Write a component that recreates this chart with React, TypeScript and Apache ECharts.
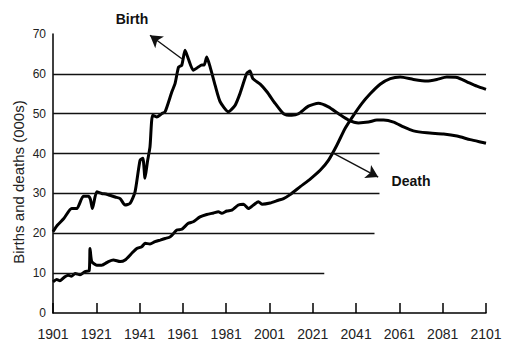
import React, { useEffect, useRef } from "react";
import * as echarts from "echarts";

const xTicks = [1901, 1921, 1941, 1961, 1981, 2001, 2021, 2041, 2061, 2081, 2101];

const birthData: [number, number][] = [
  [1901, 20.4], [1903, 22], [1906, 23.7], [1909.6, 26.2], [1912, 26.2], [1915, 29.3], [1917.3, 29.3],
  [1918.3, 28.5], [1919.2, 26.2], [1921.2, 30.4], [1923.5, 30], [1925.8, 29.8], [1929.7, 29.1],
  [1932, 28.7], [1934.3, 27.1], [1936.6, 27.5], [1938.9, 30.4], [1941.2, 38.3], [1942.5, 38.8],
  [1943.5, 33.8], [1944.6, 37.9], [1945.8, 41.7], [1947, 49.6], [1948.9, 49.2], [1951.2, 50],
  [1952.8, 50.5], [1955.9, 55.5], [1957.4, 57.6], [1959, 61.7], [1960.5, 62.2], [1962, 65.9],
  [1963.5, 63.8], [1965.8, 60.9], [1968.1, 61.7], [1969.7, 62.2], [1970.8, 62.2], [1972, 64.2],
  [1973.6, 61.7], [1975.9, 57.1], [1978.2, 53], [1982, 50.5], [1985.1, 52.1], [1987.4, 55.1],
  [1990.5, 60.1], [1992, 60.7], [1993.3, 58.8], [1996.7, 57.4], [1999.8, 55.5], [2003.6, 52.6],
  [2007.5, 50], [2011.3, 49.6], [2014.4, 50], [2019, 51.9], [2023.6, 52.6], [2028.2, 51.7],
  [2032.9, 50], [2037.5, 48.4], [2042.1, 47.7], [2046.7, 47.9], [2050.6, 48.4], [2053.7, 48.4],
  [2058.3, 47.9], [2062.9, 46.7], [2067.5, 45.7], [2073.7, 45.2], [2081.4, 44.9], [2087.6, 44.4],
  [2093.7, 43.5], [2101, 42.6],
];

const deathData: [number, number][] = [
  [1901, 7.8], [1902.7, 8.4], [1904.2, 8.1], [1906.5, 9.1], [1908.1, 9.5], [1909.5, 9.2],
  [1911.2, 9.9], [1913.5, 9.6], [1915.8, 10.4], [1917.7, 10.6], [1918.1, 16.2], [1918.9, 12.9],
  [1921.2, 12], [1923.5, 12], [1926.6, 12.9], [1928.9, 13.3], [1932, 12.9], [1934.3, 13.3],
  [1937.4, 15], [1939.7, 16.2], [1942, 16.6], [1943.5, 17.5], [1945.8, 17.3], [1948.1, 17.9],
  [1950.5, 18.3], [1952.8, 18.7], [1955.1, 19.1], [1958.2, 20.8], [1960.5, 21], [1963.5, 22.5],
  [1965.8, 22.9], [1968.9, 24.1], [1972, 24.7], [1975.1, 25.1], [1977.4, 25.4], [1978.9, 25],
  [1981.3, 25.6], [1983.6, 25.8], [1986.6, 27.1], [1989, 27.3], [1991.3, 26.2], [1993.6, 27.1],
  [1995.9, 27.9], [1997.5, 27.3], [2001.3, 27.6], [2005.1, 28.3], [2007.5, 28.7], [2010.5, 29.7],
  [2015.2, 31.7], [2019.8, 33.6], [2024.4, 35.8], [2028.2, 38.3], [2032.1, 42.1], [2035.9, 46.3],
  [2039.8, 49.6], [2043.7, 52.6], [2047.5, 55], [2052.1, 57.4], [2056.8, 58.8], [2061.4, 59.2],
  [2067.5, 58.6], [2073.7, 58.2], [2078.3, 58.6], [2082.9, 59.2], [2087.6, 59.1], [2092.2, 58],
  [2096.8, 56.9], [2101, 56.1],
];

// horizontal reference lines: level and the year where each stops
const gridLevels = [10, 20, 30, 40, 50, 60];
const gridEnds = [2026.3, 2049.5, 2051.8, 2051.8, 2101, 2101];

// annotation arrows: [start, tip]
const birthArrow: [number, number][] = [[1960.5, 63.8], [1945.8, 69.7]];
const deathArrow: [number, number][] = [[2030.4, 40.1], [2051.2, 34.1]];

const FONT = "'Liberation Sans', Arial, sans-serif";

export default function App() {
  const ref = useRef<HTMLDivElement>(null);
  useEffect(() => {
    if (!ref.current) return;
    const chart = echarts.init(ref.current, null, { renderer: "svg" });
    chart.setOption({
      animation: false,
      backgroundColor: "#fff",
      grid: { left: 53, right: 26, top: 34, bottom: 46 },
      xAxis: {
        type: "value",
        min: xTicks[0],
        max: xTicks[xTicks.length - 1],
        interval: 20,
        axisLine: { lineStyle: { color: "#000", width: 1.5 } },
        axisTick: { inside: true, length: 10, lineStyle: { color: "#000", width: 1.5 } },
        axisLabel: {
          color: "#222",
          fontSize: 14,
          fontFamily: FONT,
          margin: 14,
          formatter: (v: number) => String(v),
        },
        splitLine: { show: false },
      },
      yAxis: {
        type: "value",
        min: 0,
        max: 70,
        interval: 10,
        axisLine: { show: true, lineStyle: { color: "#000", width: 1.5 } },
        axisTick: { show: false },
        axisLabel: { color: "#222", fontSize: 12, fontFamily: FONT, margin: 7 },
        splitLine: { show: false },
      },
      graphic: [
        {
          type: "text",
          x: 18,
          y: 182,
          rotation: Math.PI / 2,
          style: {
            text: "Births and deaths (000s)",
            fill: "#222",
            font: `15px ${FONT}`,
            textAlign: "center",
            textVerticalAlign: "middle",
          },
        },
        {
          type: "text",
          x: 132,
          y: 19,
          style: { text: "Birth", fill: "#111", font: `bold 14px ${FONT}`, textAlign: "center", textVerticalAlign: "middle" },
        },
        {
          type: "text",
          x: 411,
          y: 181,
          style: { text: "Death", fill: "#111", font: `bold 14px ${FONT}`, textAlign: "center", textVerticalAlign: "middle" },
        },
      ],
      series: [
        {
          type: "line",
          data: [],
          silent: true,
          markLine: {
            silent: true,
            symbol: "none",
            label: { show: false },
            lineStyle: { color: "#111", width: 1.4, type: "solid" },
            data: gridLevels.map((lv, i) => [{ coord: [1901, lv] }, { coord: [gridEnds[i], lv] }]),
          },
        },
        {
          type: "line",
          data: [],
          silent: true,
          markLine: {
            silent: true,
            symbol: ["none", "arrow"],
            symbolSize: [11, 12],
            label: { show: false },
            lineStyle: { color: "#111", width: 1.4, type: "solid" },
            itemStyle: { color: "#111" },
            data: [
              [{ coord: birthArrow[0] }, { coord: birthArrow[1] }],
              [{ coord: deathArrow[0] }, { coord: deathArrow[1] }],
            ],
          },
        },
        {
          name: "Birth",
          type: "line",
          data: birthData,
          showSymbol: false,
          smooth: 0.2,
          lineStyle: { color: "#000", width: 3 },
        },
        {
          name: "Death",
          type: "line",
          data: deathData,
          showSymbol: false,
          smooth: 0.2,
          lineStyle: { color: "#000", width: 3 },
        },
      ],
    });
    return () => chart.dispose();
  }, []);
  return <div ref={ref} style={{ position: "fixed", left: 0, top: 0, width: 512, height: 359 }} />;
}
